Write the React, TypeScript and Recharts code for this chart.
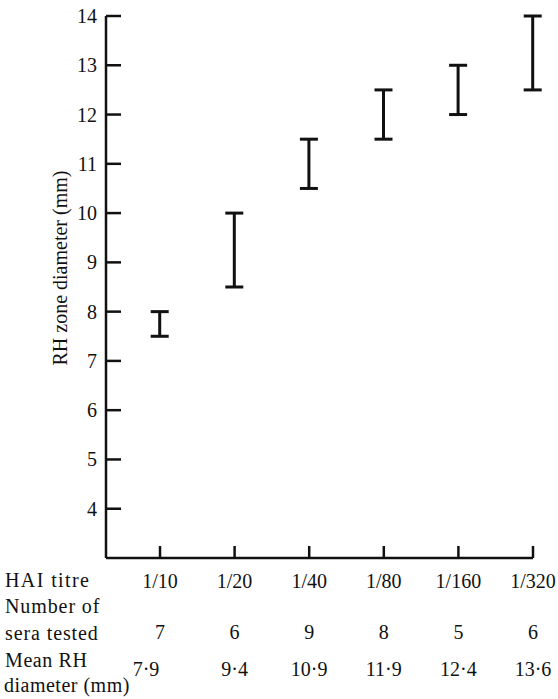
import React from "react"
import { ComposedChart, Bar, XAxis, YAxis } from "recharts"

// HAI titre groups and the table rows under the axis
const titres = ["1/10", "1/20", "1/40", "1/80", "1/160", "1/320"]
const seraTested = [7, 6, 9, 8, 5, 6]
const meanDiameter = [7.9, 9.4, 10.9, 11.9, 12.4, 13.6]

// RH zone diameter range (mm) per titre
const rangeLow = [7.5, 8.5, 10.5, 11.5, 12, 12.5]
const rangeHigh = [8, 10, 11.5, 12.5, 13, 14]

const yTicks = [4, 5, 6, 7, 8, 9, 10, 11, 12, 13, 14]
const xTicks = titres.map((_, i) => i)

const data = titres.map((t, i) => ({ idx: i, titre: t, range: [rangeLow[i], rangeHigh[i]] }))

const INK = "#111"
const serif = { fontFamily: "Liberation Serif", fontSize: 20 }

const fmt = (v: number) => v.toFixed(1).replace(".", "·")

function IBeam(props: any) {
  const { x, y, width, height } = props
  const cx = x + width / 2
  const top = Math.min(y, y + height)
  const bot = Math.max(y, y + height)
  return (
    <g stroke={INK} strokeWidth={3}>
      <line x1={cx} x2={cx} y1={top} y2={bot} />
      <line x1={cx - 9} x2={cx + 9} y1={top} y2={top} />
      <line x1={cx - 9} x2={cx + 9} y1={bot} y2={bot} />
    </g>
  )
}

function TitreTick(props: any) {
  const { x, y, payload } = props
  const i = payload.value as number
  return (
    <g fill={INK}>
      <line x1={x} x2={x} y1={y} y2={y - 12} stroke={INK} strokeWidth={2.5} />
      <text x={x} y={y + 30} textAnchor="middle" style={serif}>{titres[i]}</text>
      <text x={x} y={y + 81} textAnchor="middle" style={serif}>{seraTested[i]}</text>
      <text x={x + (i === 0 ? -14 : 0)} y={y + 118} textAnchor="middle" style={serif}>{fmt(meanDiameter[i])}</text>
    </g>
  )
}

function DiamTick(props: any) {
  const { x, y, payload } = props
  return (
    <g fill={INK}>
      <line x1={x} x2={x + 15} y1={y} y2={y} stroke={INK} strokeWidth={2.5} />
      <text x={x - 9} y={y + 7} textAnchor="end" style={serif}>{payload.value}</text>
    </g>
  )
}

export default function App() {
  return (
    <div style={{ position: "absolute", left: 0, top: 0, width: 558, height: 699, background: "#fff" }}>
      <ComposedChart width={558} height={699} data={data} margin={{ top: 16, right: 25, bottom: 0, left: 0 }}>
        <XAxis
          dataKey="idx"
          type="number"
          domain={[-0.724, 5]}
          ticks={xTicks}
          height={141}
          tickSize={0}
          tickMargin={0}
          tickLine={false}
          axisLine={{ stroke: INK, strokeWidth: 2.5 }}
          tick={<TitreTick />}
          interval={0}
        />
        <YAxis
          type="number"
          domain={[3, 14]}
          ticks={yTicks}
          width={106}
          tickSize={0}
          tickMargin={0}
          tickLine={false}
          axisLine={{ stroke: INK, strokeWidth: 2.5 }}
          tick={<DiamTick />}
          interval={0}
        />
        <Bar dataKey="range" barSize={18} shape={<IBeam />} isAnimationActive={false} />
      </ComposedChart>
      <svg width={558} height={699} style={{ position: "absolute", left: 0, top: 0, pointerEvents: "none" }}>
        <g fill={INK}>
          <text x={60} y={268} transform="rotate(-90 60 268)" textAnchor="middle" dominantBaseline="central" style={serif}>
            RH zone diameter (mm)
          </text>
          <text x={5} y={587} style={{ ...serif, letterSpacing: 1.4 }}>HAI titre</text>
          <text x={5} y={613} style={{ ...serif, letterSpacing: 0.9 }}>Number of</text>
          <text x={5} y={640} style={{ ...serif, letterSpacing: 0.9 }}>sera tested</text>
          <text x={5} y={667} style={{ ...serif, letterSpacing: 0.6 }}>Mean RH</text>
          <text x={4} y={692} style={{ ...serif, letterSpacing: 0.5 }}>diameter (mm)</text>
        </g>
      </svg>
    </div>
  )
}
